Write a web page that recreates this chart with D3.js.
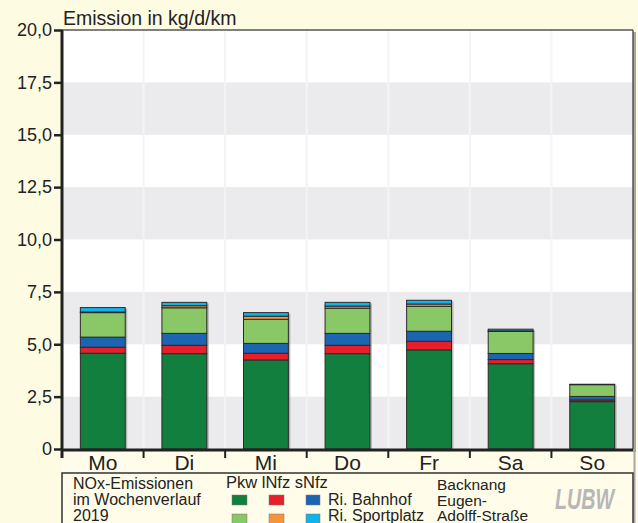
<!DOCTYPE html>
<html><head><meta charset="utf-8">
<script src="https://cdn.jsdelivr.net/npm/d3@7"></script>
<style>
html,body{margin:0;padding:0;background:#fefbe3;}
svg{display:block;font-family:"Liberation Sans",Arial,sans-serif;}
</style></head><body>
<svg id="c" width="638" height="523"></svg>
<script>
const days = ["Mo","Di","Mi","Do","Fr","Sa","So"];
const seriesKeys = ["pkwB","lnfzB","snfzB","pkwS","lnfzS","snfzS"];
const pkwBahnhof      = [4.57,4.55,4.25,4.55,4.73,4.07,2.26];
const lnfzBahnhof     = [0.29,0.40,0.32,0.40,0.41,0.20,0.08];
const snfzBahnhof     = [0.48,0.57,0.47,0.57,0.48,0.29,0.17];
const pkwSportplatz   = [1.17,1.22,1.15,1.20,1.19,1.05,0.56];
const lnfzSportplatz  = [0.03,0.10,0.15,0.10,0.11,0.03,0.01];
const snfzSportplatz  = [0.21,0.16,0.17,0.18,0.18,0.08,0.01];
const colors = ["#137f3f","#e71f2b","#1c65b1","#8ac766","#f5943a","#12b3ea"];
const yTicks = [0,2.5,5,7.5,10,12.5,15,17.5,20];
const yLabels = ["0","2,5","5,0","7,5","10,0","12,5","15,0","17,5","20,0"];

const data = days.map((d,i)=>({day:d,pkwB:pkwBahnhof[i],lnfzB:lnfzBahnhof[i],snfzB:snfzBahnhof[i],
  pkwS:pkwSportplatz[i],lnfzS:lnfzSportplatz[i],snfzS:snfzSportplatz[i]}));

const svg = d3.select("#c");
const L=62,R=633,T=30,B=449;
const x = d3.scaleBand().domain(days).range([L,R]).paddingInner(0.45).paddingOuter(0.225);
const xb = d3.scaleBand().domain(days).range([L,R]);
const y = d3.scaleLinear().domain([0,20]).range([B,T]);

// plot shadow
svg.append("rect").attr("x",L+2).attr("y",T+2).attr("width",R-L+1).attr("height",B-T+1).attr("fill","#a9a8a0");
svg.append("rect").attr("x",L).attr("y",T).attr("width",R-L).attr("height",B-T).attr("fill","#ffffff");
// grey bands
for(let i=0;i<yTicks.length-1;i++){
  if(i%2===0){
    svg.append("rect").attr("x",L).attr("width",R-L).attr("y",y(yTicks[i+1])).attr("height",y(yTicks[i])-y(yTicks[i+1])).attr("fill","#ebebee");
  }
}
// vertical grid
days.slice(1).forEach(d=>{
  svg.append("line").attr("x1",xb(d)).attr("x2",xb(d)).attr("y1",T).attr("y2",B).attr("stroke","#f4f4f4").attr("stroke-width",2);
});

// bars
const stack = d3.stack().keys(seriesKeys)(data);
svg.append("g").selectAll("rect").data(data).join("rect")
  .attr("x",d=>x(d.day)+2).attr("width",x.bandwidth())
  .attr("y",d=>y(d3.sum(seriesKeys,k=>d[k]))+1)
  .attr("height",d=>B-y(d3.sum(seriesKeys,k=>d[k])))
  .attr("fill","#8f8f8f").attr("opacity",0.6);
svg.append("g").selectAll("g").data(stack).join("g")
  .attr("fill",(s,i)=>colors[i])
  .selectAll("rect").data(s=>s).join("rect")
  .attr("x",d=>x(d.data.day)).attr("width",x.bandwidth())
  .attr("y",d=>y(d[1])).attr("height",d=>y(d[0])-y(d[1]))
  .attr("stroke","#2a2a2a").attr("stroke-width",1);

// borders
svg.append("line").attr("x1",L).attr("x2",R).attr("y1",T).attr("y2",T).attr("stroke","#555").attr("stroke-width",1.5);
svg.append("line").attr("x1",R).attr("x2",R).attr("y1",T).attr("y2",B).attr("stroke","#555").attr("stroke-width",1.5);

// day label strip
svg.append("rect").attr("x",L).attr("y",B).attr("width",R-L).attr("height",473-B).attr("fill","#fffde9");
svg.append("rect").attr("x",R+0.5).attr("y",B).attr("width",2).attr("height",523-B).attr("fill","#a9a8a0");

// y axis
const yAxis = d3.axisLeft(y).tickValues(yTicks).tickFormat((d,i)=>yLabels[i]).tickSize(8).tickPadding(2);
const gy = svg.append("g").attr("transform",`translate(${L},0)`).call(yAxis);
gy.select(".domain").remove();
gy.selectAll(".tick line").attr("stroke","#222").attr("stroke-width",2.5);
gy.selectAll(".tick text").attr("font-size",18).attr("fill","#222").attr("font-family","Liberation Sans, Arial, sans-serif");
svg.append("line").attr("x1",L).attr("x2",L).attr("y1",T).attr("y2",B+9).attr("stroke","#222").attr("stroke-width",3);

// x axis
svg.append("line").attr("x1",L).attr("x2",R).attr("y1",B+1).attr("y2",B+1).attr("stroke","#222").attr("stroke-width",3);
days.slice(1).forEach(d=>{
  svg.append("line").attr("x1",xb(d)).attr("x2",xb(d)).attr("y1",B).attr("y2",B+9).attr("stroke","#222").attr("stroke-width",2);
});
const xAxis = d3.axisBottom(xb).tickSize(0).tickPadding(0);
const gx = svg.append("g").attr("transform",`translate(0,${B})`).call(xAxis);
gx.select(".domain").remove();
gx.selectAll(".tick text").attr("font-size",21).attr("fill","#222").attr("dy",null).attr("y",21)
  .attr("font-family","Liberation Sans, Arial, sans-serif");

// title
svg.append("text").attr("x",63).attr("y",25).attr("font-size",19.5).attr("fill","#222").text("Emission in kg/d/km");

// legend box
svg.append("rect").attr("x",L).attr("y",473).attr("width",R-L).attr("height",70).attr("fill","#fffde9").attr("stroke","#333").attr("stroke-width",1.5);
const lg = svg.append("g").attr("font-size",16).attr("fill","#222");
lg.append("text").attr("x",73).attr("y",489).text("NOx-Emissionen");
lg.append("text").attr("x",73).attr("y",505).text("im Wochenverlauf");
lg.append("text").attr("x",73).attr("y",521).text("2019");
lg.append("text").attr("x",226).attr("y",488).attr("font-size",16.5).text("Pkw lNfz sNfz");
const sqX=[232,269,306], sqY=[495,514];
colors.forEach((c,i)=>{
  const r=Math.floor(i/3), col=i%3;
  lg.append("rect").attr("x",sqX[col]).attr("y",sqY[r]).attr("width",col===2?14:15).attr("height",10)
    .attr("fill",c).attr("stroke","#777").attr("stroke-width",0.5);
});
lg.append("text").attr("x",328).attr("y",505).text("Ri. Bahnhof");
lg.append("text").attr("x",328).attr("y",521).text("Ri. Sportplatz");
const rc = lg.append("g").attr("font-size",15.5);
rc.append("text").attr("x",437).attr("y",490).text("Backnang");
rc.append("text").attr("x",437).attr("y",505.5).text("Eugen-");
rc.append("text").attr("x",437).attr("y",520.5).text("Adolff-Straße");
svg.append("text").attr("transform","translate(555,509) scale(0.68,1)").attr("font-size",29).attr("font-weight","bold").attr("font-style","italic")
  .attr("fill","#b7b7b7").text("LUBW");
</script>
</body></html>
